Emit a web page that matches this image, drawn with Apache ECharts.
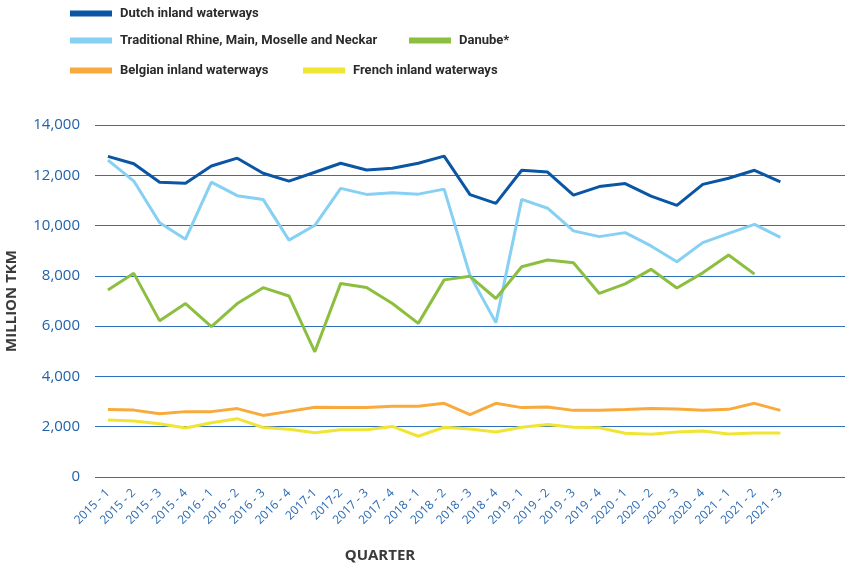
<!DOCTYPE html>
<html>
<head>
<meta charset="utf-8">
<script src="https://cdn.jsdelivr.net/npm/echarts@6/dist/echarts.min.js"></script>
<style>
  html, body { margin: 0; padding: 0; background: #fff; }
  #chart { width: 846px; height: 564px; }
</style>
</head>
<body>
<div id="chart"></div>
<script>
// quarters on the x axis
const quarters = [
  '2015 - 1', '2015 - 2', '2015 - 3', '2015 - 4',
  '2016 - 1', '2016 - 2', '2016 - 3', '2016 - 4',
  '2017-1', '2017-2', '2017 - 3', '2017 - 4',
  '2018 - 1', '2018 - 2', '2018 - 3', '2018 - 4',
  '2019 - 1', '2019 - 2', '2019 - 3', '2019 - 4',
  '2020 - 1', '2020 - 2', '2020 - 3', '2020 - 4',
  '2021 - 1', '2021 - 2', '2021 - 3'
]

// million TKM per quarter
const dutch = [12750, 12460, 11720, 11680, 12370, 12680, 12080, 11770, 12120, 12480, 12210, 12280, 12480, 12760, 11230, 10880, 12200, 12130, 11210, 11550, 11670, 11170, 10800, 11640, 11880, 12200, 11740]
const rhine = [12600, 11770, 10110, 9460, 11730, 11190, 11040, 9420, 10010, 11480, 11240, 11310, 11250, 11450, 8020, 6140, 11040, 10690, 9790, 9560, 9720, 9190, 8560, 9320, 9690, 10050, 9530]
const danube = [7440, 8100, 6210, 6900, 5980, 6900, 7530, 7200, 4980, 7700, 7540, 6900, 6110, 7840, 7980, 7100, 8360, 8630, 8520, 7300, 7680, 8260, 7520, 8120, 8830, 8070, null]
const belgian = [2680, 2660, 2520, 2600, 2600, 2720, 2450, 2610, 2770, 2760, 2760, 2810, 2810, 2930, 2480, 2930, 2760, 2780, 2650, 2650, 2680, 2720, 2700, 2650, 2690, 2930, 2650]
const french = [2270, 2230, 2120, 1950, 2160, 2320, 1970, 1900, 1760, 1880, 1880, 2010, 1620, 1980, 1910, 1790, 1980, 2090, 1980, 1960, 1740, 1700, 1790, 1830, 1710, 1750, 1750]

const names = [
  'Dutch inland waterways',
  'Traditional Rhine, Main, Moselle and Neckar',
  'Danube*',
  'Belgian inland waterways',
  'French inland waterways'
]
const colors = ['#0b56a4', '#86d0f3', '#8cbf3f', '#f8aa3c', '#f1e534']
const values = [dutch, rhine, danube, belgian, french]

const myChart = echarts.init(document.getElementById('chart'))

const FONT = '"Open Sans", sans-serif'

// one legend per item so each sits where the original put it
const legendPos = [
  {left: 70, top: 7},
  {left: 70, top: 34},
  {left: 409, top: 34},
  {left: 70, top: 64},
  {left: 303, top: 64}
]

const option = {
  animation: false,
  color: colors,
  legend: names.map((n, i) => ({
    data: [n],
    left: legendPos[i].left,
    top: legendPos[i].top,
    padding: 0,
    icon: 'rect',
    itemWidth: 42,
    itemHeight: 6,
    selectedMode: false,
    textStyle: {
      fontFamily: 'Roboto, sans-serif',
      fontWeight: 'bold',
      fontSize: 13,
      color: '#2b2b2b',
      padding: [0, 0, 0, 3]
    }
  })),
  grid: {
    left: 95,
    right: 1,
    top: 125,
    bottom: 87,
    outerBoundsMode: 'none'
  },
  xAxis: {
    type: 'category',
    data: quarters,
    max: 28,
    boundaryGap: true,
    axisLine: {show: false},
    axisTick: {show: false},
    axisLabel: {
      interval: 0,
      rotate: 45,
      margin: 14,
      fontFamily: FONT,
      fontSize: 12,
      color: '#2a6bb5',
      formatter: v => v == null ? '' : v
    },
    name: 'QUARTER',
    nameLocation: 'middle',
    nameGap: 71,
    nameTextStyle: {
      fontFamily: FONT,
      fontWeight: 'bold',
      fontSize: 15,
      color: '#3a3a3a',
      padding: [0, 180, 0, 0]
    }
  },
  yAxis: {
    type: 'value',
    min: 0,
    max: 14000,
    interval: 2000,
    axisLine: {show: false},
    axisTick: {show: false},
    axisLabel: {
      margin: 15,
      fontFamily: FONT,
      fontSize: 15,
      color: '#2162ab',
      formatter: v => v.toLocaleString('en-US')
    },
    splitLine: {
      lineStyle: {color: '#2e6fbd', width: 1.2}
    },
    name: 'MILLION TKM',
    nameLocation: 'middle',
    nameGap: 76,
    nameTextStyle: {
      fontFamily: FONT,
      fontWeight: 'bold',
      fontSize: 15,
      color: '#3a3a3a'
    }
  },
  series: names.map((n, i) => ({
    name: n,
    type: 'line',
    data: values[i],
    symbol: 'none',
    lineStyle: {width: 3, color: colors[i]},
    itemStyle: {color: colors[i]}
  }))
}

myChart.setOption(option)
</script>
</body>
</html>
